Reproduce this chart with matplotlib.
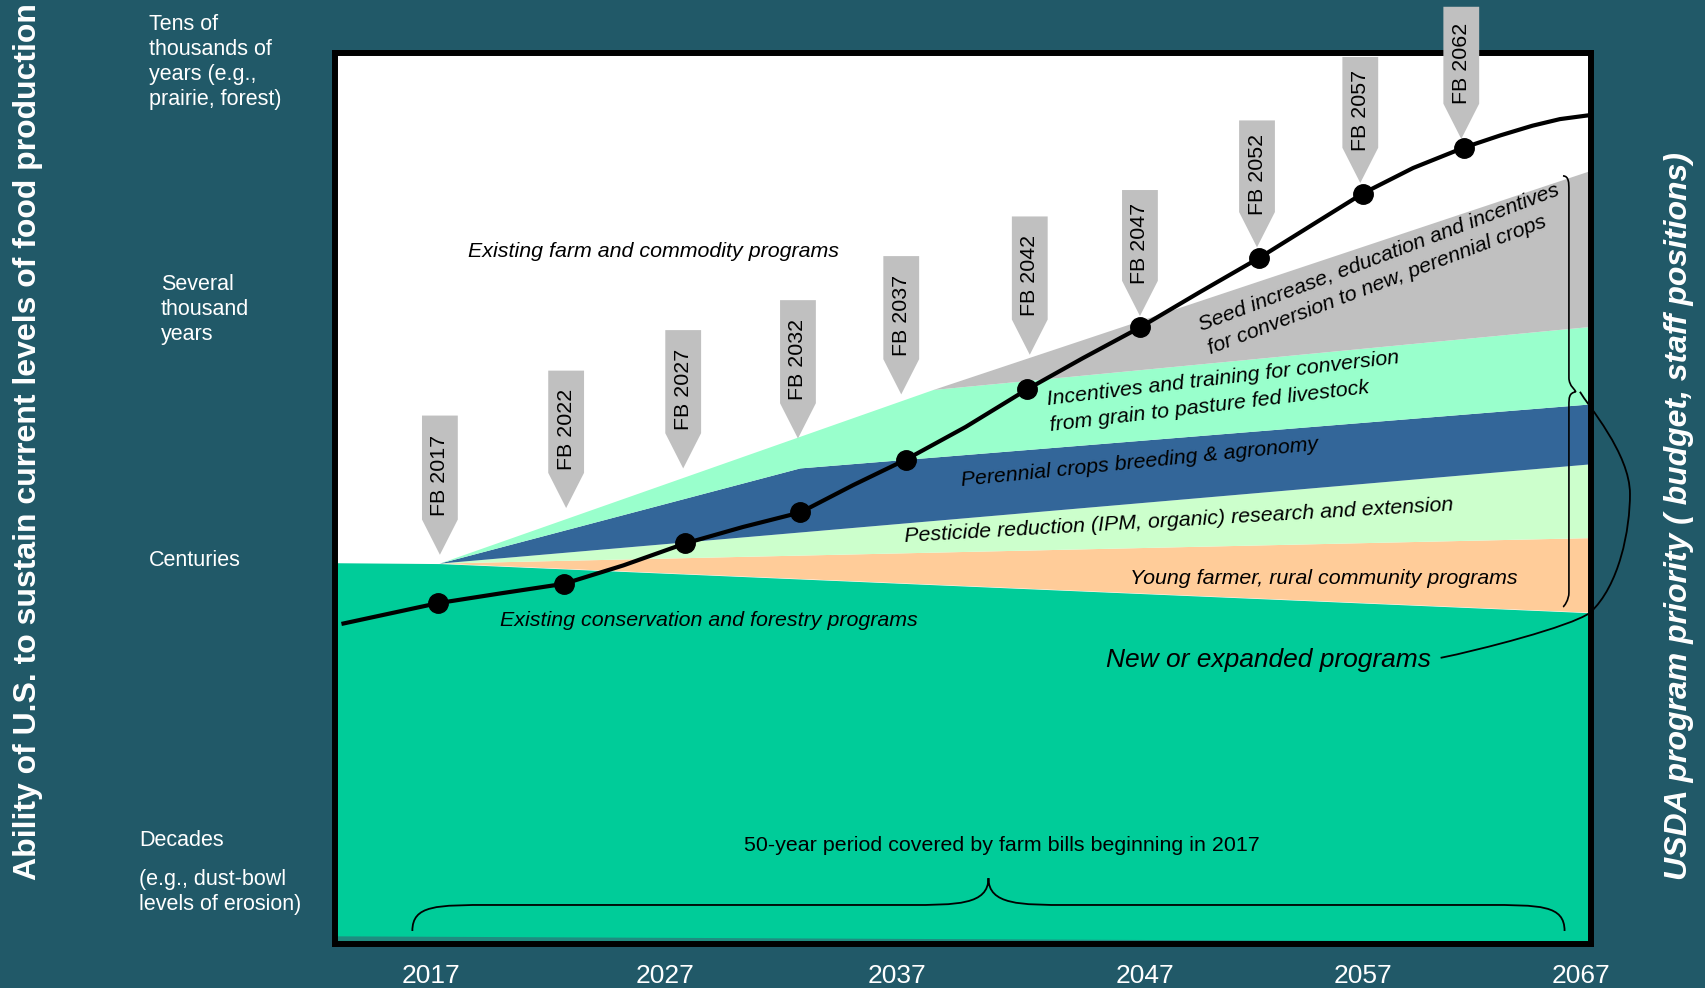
import matplotlib
matplotlib.use("Agg")
import matplotlib.pyplot as plt
from matplotlib.path import Path
from matplotlib.patches import PathPatch, Polygon

plt.rcParams["font.family"] = ["Liberation Sans", "DejaVu Sans"]

BG = "#215968"

# ---- data (x in years, y on a 0-100 "sustainability" scale) ----
# farm bill markers
bill_labels = ["FB 2017", "FB 2022", "FB 2027", "FB 2032", "FB 2037",
               "FB 2042", "FB 2047", "FB 2052", "FB 2057", "FB 2062"]
bill_x = [2017.2, 2022.7, 2027.8, 2032.8, 2037.3, 2042.9, 2047.7, 2052.8, 2057.3, 2061.7]
bill_top = [59.3, 64.4, 69.0, 72.4, 77.4, 81.9, 84.9, 92.8, 100.0, 105.7]
bill_tip = [43.5, 48.8, 53.3, 56.7, 61.7, 66.2, 70.6, 78.4, 85.7, 90.7]

# sustainability trajectory
curve_x = [2013.0, 2017.1, 2019.8, 2022.6, 2025.2, 2027.9, 2030.4, 2032.9, 2035.2,
           2037.5, 2040.1, 2042.8, 2045.2, 2047.7, 2050.3, 2052.9, 2055.3, 2057.4,
           2059.6, 2061.8, 2063.4, 2064.8, 2066.0, 2067.3]
curve_y = [35.7, 38.0, 39.1, 40.2, 42.3, 44.8, 46.65, 48.3, 51.4, 54.3, 58.0, 62.3,
           65.8, 69.3, 73.3, 77.2, 81.1, 84.5, 87.4, 89.7, 91.1, 92.2, 92.95, 93.4]
dot_x = [2017.1, 2022.6, 2027.9, 2032.9, 2037.5, 2042.8, 2047.7, 2052.9, 2057.4, 2061.8]
dot_y = [38.0, 40.2, 44.8, 48.3, 54.3, 62.3, 69.3, 77.2, 84.5, 89.7]

# program bands: upper boundaries
green_x = [2012.5, 2017.2, 2067.5]
green_y = [42.6, 42.5, 36.9]
orange_x = [2017.2, 2067.5]
orange_y = [42.5, 45.4]
pest_x = [2017.2, 2067.5]
pest_y = [42.5, 53.8]
blue_x = [2017.2, 2032.9, 2067.5]
blue_y = [42.5, 53.3, 60.6]
mint_x = [2017.2, 2038.7, 2067.5]
mint_y = [42.5, 62.2, 69.4]
gray_x = [2038.7, 2067.5]
gray_y = [62.2, 87.2]

year_ticks = [2016.8, 2027.0, 2037.1, 2047.9, 2057.4, 2066.9]
year_labels = ["2017", "2027", "2037", "2047", "2057", "2067"]

level_labels = ["Tens of\nthousands of\nyears (e.g.,\nprairie, forest)",
                "Several\nthousand\nyears",
                "Centuries",
                "Decades",
                "(e.g., dust-bowl\nlevels of erosion)"]
level_y = [104.9, 75.4, 42.8, 11.1, 5.2]
level_va = ["top", "top", "center", "center", "center"]
level_xoff = [-0.1477, -0.1381, -0.1477, -0.1557, -0.1557]


def band(ax, ux, uy, lx, ly, color):
    xs = list(ux) + list(lx)[::-1]
    ys = list(uy) + list(ly)[::-1]
    ax.fill(xs, ys, color=color, lw=0, zorder=1)


def bezier(ax, verts, codes, **kw):
    ax.add_patch(PathPatch(Path(verts, codes), fill=False, clip_on=False, **kw))


def hbrace(ax, x0, x1, y0, y1, y2, w, **kw):
    xm = (x0 + x1) / 2
    C, L = Path.CURVE4, Path.LINETO
    verts = [(x0, y0), (x0, y1), (x0 + 0.3 * w, y1), (x0 + w, y1),
             (xm - w, y1),
             (xm - 0.4 * w, y1), (xm, y1), (xm, y2),
             (xm, y1), (xm + 0.4 * w, y1), (xm + w, y1),
             (x1 - w, y1),
             (x1 - 0.3 * w, y1), (x1, y1), (x1, y0)]
    codes = [Path.MOVETO, C, C, C, L, C, C, C, C, C, C, L, C, C, C]
    bezier(ax, verts, codes, **kw)


def vbrace(ax, x_end, x_line, x_cusp, y_top, y_mid, y_bot, h, **kw):
    C, L = Path.CURVE4, Path.LINETO
    verts = [(x_end, y_top), (x_line, y_top), (x_line, y_top - 0.5 * h), (x_line, y_top - h),
             (x_line, y_mid + h),
             (x_line, y_mid + 0.4 * h), (x_cusp, y_mid + 0.1 * h), (x_cusp, y_mid),
             (x_line, y_mid - 0.1 * h), (x_line, y_mid - 0.4 * h), (x_line, y_mid - h),
             (x_line, y_bot + h),
             (x_line, y_bot + 0.5 * h), (x_end + 0.05, y_bot), (x_end, y_bot)]
    codes = [Path.MOVETO, C, C, C, L, C, C, C, C, C, C, L, C, C, C]
    bezier(ax, verts, codes, **kw)


fig = plt.figure(figsize=(17.06, 9.88), dpi=100, facecolor=BG)
ax = fig.add_axes([0.1961, 0.04453, 0.7362, 0.9018])
ax.set_facecolor("white")
ax.set_xlim(2012.61, 2067.33)
ax.set_ylim(-0.68, 100.45)
for s in ax.spines.values():
    s.set_linewidth(4.3)
    s.set_color("black")

# bands
ax.fill_between(green_x, -1, green_y, color="#00CC99", lw=0, zorder=1)
ax.fill_between([2012.5, 2067.5], -1, [0.25, -0.4], color="#1f8c80", lw=0, zorder=1)
band(ax, orange_x, orange_y, green_x[1:], green_y[1:], "#FFCC99")
band(ax, pest_x, pest_y, orange_x, orange_y, "#CCFFCC")
band(ax, blue_x, blue_y, pest_x, pest_y, "#336699")
band(ax, mint_x, mint_y, blue_x, blue_y, "#99FFCC")
band(ax, gray_x, gray_y, mint_x[1:], mint_y[1:], "#C0C0C0")

# farm bill arrows
hw, head = 0.78, 4.0
for lab, x, top, tip in zip(bill_labels, bill_x, bill_top, bill_tip):
    base = tip + head
    ax.add_patch(Polygon([(x - hw, top), (x + hw, top), (x + hw, base), (x, tip), (x - hw, base)],
                         closed=True, facecolor="#C0C0C0", edgecolor="none", zorder=3, clip_on=False))
    ax.text(x, (top + base) / 2 - 0.9, lab, rotation=90, ha="center", va="center",
            fontsize=15.4, color="black", zorder=3.5, clip_on=False)

# trajectory
ax.plot(curve_x, curve_y, color="black", lw=3, zorder=4, solid_joinstyle="round")
ax.plot(dot_x, dot_y, "o", color="black", ms=14, zorder=5)

# band labels
lab_kw = dict(fontsize=15.4, style="italic", color="black", zorder=3,
              ha="center", va="center", rotation_mode="anchor")
ax.text(2026.5, 77.9, "Existing farm and commodity programs", **lab_kw)
ax.text(2028.9, 36.0, "Existing conservation and forestry programs", **lab_kw)
ax.text(2058.3, 75.9, "Seed increase, education and incentives\nfor conversion to new, perennial crops",
        rotation=20.8, multialignment="left", linespacing=1.45, **lab_kw)
ax.text(2051.4, 62.0, "Incentives and training for conversion\nfrom grain to pasture fed livestock",
        rotation=6.8, multialignment="left", linespacing=1.45, **lab_kw)
ax.text(2047.7, 53.95, "Perennial crops breeding & agronomy", rotation=5.8, **lab_kw)
ax.text(2049.4, 47.4, "Pesticide reduction (IPM, organic) research and extension", rotation=3.3, **lab_kw)
ax.text(2055.7, 40.8, "Young farmer, rural community programs", **lab_kw)
ax.text(2053.3, 31.6, "New or expanded programs", fontsize=19, style="italic",
        ha="center", va="center", zorder=3)
ax.text(2041.7, 10.5, "50-year period covered by farm bills beginning in 2017",
        fontsize=15.4, ha="center", va="center", zorder=3)

# braces and connector
hbrace(ax, 2016.0, 2066.2, 0.8, 3.75, 6.8, 3.5, lw=1.3, color="black", zorder=3)
vbrace(ax, 2066.13, 2066.39, 2066.69, 86.5, 62.0, 37.6, 1.6, lw=1.2, color="black", zorder=3)
C = Path.CURVE4
bezier(ax,
       [(2066.87, 62.0), (2067.2, 60.5), (2069.05, 55.0), (2069.05, 50.4),
        (2069.05, 46.4), (2068.6, 40.0), (2067.3, 36.9),
        (2066.4, 35.3), (2062.5, 32.7), (2060.8, 31.8)],
       [Path.MOVETO, C, C, C, C, C, C, C, C, C], lw=1.3, color="black", zorder=6)

# axis ticks
ax.set_yticks([])
ax.set_xticks(year_ticks, year_labels)
ax.tick_params(axis="x", length=0, pad=14.5, labelsize=19, labelcolor="white")

# level labels on the left
ytr = ax.get_yaxis_transform()
for txt, y, va, xo in zip(level_labels, level_y, level_va, level_xoff):
    ax.text(xo, y, txt, transform=ytr, ha="left", va=va, fontsize=15.5,
            color="white", clip_on=False, linespacing=1.25)

fig.text(0.0166, 0.5526, "Ability of U.S. to sustain current levels of food production",
         rotation=90, ha="center", va="center", fontsize=23, fontweight="bold", color="white")
fig.text(0.984, 0.478, "USDA program priority ( budget, staff positions)",
         rotation=90, ha="center", va="center", fontsize=23, fontweight="bold",
         style="italic", color="white")

fig.savefig("out.png", dpi=100, facecolor=BG)
